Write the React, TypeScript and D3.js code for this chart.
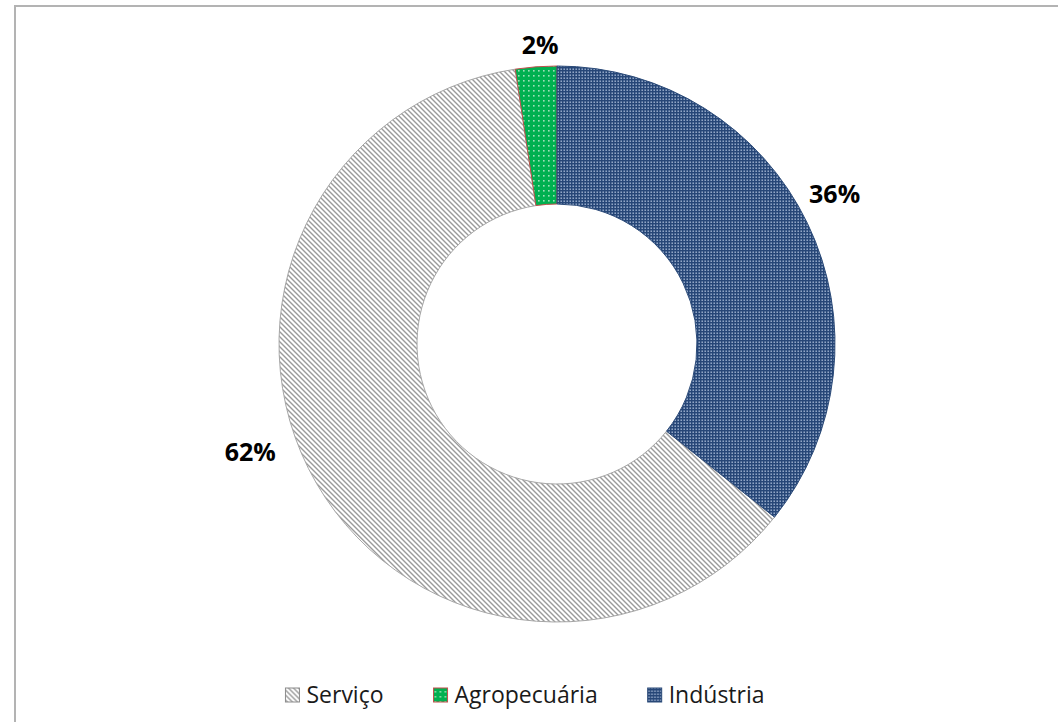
import React, { useEffect, useRef } from 'react';
import * as d3 from 'd3';

const categories = ['Serviço', 'Agropecuária', 'Indústria'];
const shares = [61.9, 2.4, 35.7];
const percentLabels = ['62%', '2%', '36%'];
const patternIds = ['hatch-servico', 'dots-agro', 'grid-industria'];
const strokes = ['#a6a6a6', '#c0504d', '#2b4a78'];

// best-fit style label placement: angle shift from the slice centre (degrees) and radius
const labelShift = [10.8, 1.1, -2.8];
const labelRadius = [325, 300, 316];

const width = 1058;
const height = 722;
const cx = 557;
const cy = 344;
const outerR = 278;
const innerR = 140;
const fontFamily = "'Open Sans', 'Liberation Sans', sans-serif";

export default function App() {
	const svgRef = useRef<SVGSVGElement>(null);

	useEffect(() => {
		const svg = d3.select(svgRef.current);
		svg.selectAll('*').remove();

		// fill patterns, similar to Excel's pattern fills
		const defs = svg.append('defs');
		const hatch = defs.append('pattern')
			.attr('id', patternIds[0])
			.attr('patternUnits', 'userSpaceOnUse')
			.attr('width', 5).attr('height', 5);
		hatch.append('rect').attr('width', 5).attr('height', 5).attr('fill', '#fff');
		hatch.append('path')
			.attr('d', 'M-1,-1 L6,6 M4,-1 L6,1 M-1,4 L1,6')
			.attr('stroke', '#9a9a9a').attr('stroke-width', 1.4);

		const dots = defs.append('pattern')
			.attr('id', patternIds[1])
			.attr('patternUnits', 'userSpaceOnUse')
			.attr('width', 5).attr('height', 5);
		dots.append('rect').attr('width', 5).attr('height', 5).attr('fill', '#00b050');
		dots.append('rect').attr('x', 1).attr('y', 1).attr('width', 1.6).attr('height', 1.6).attr('fill', '#9fe0b8');

		const grid = defs.append('pattern')
			.attr('id', patternIds[2])
			.attr('patternUnits', 'userSpaceOnUse')
			.attr('width', 3).attr('height', 3);
		grid.append('rect').attr('width', 3).attr('height', 3).attr('fill', '#264677');
		grid.append('rect').attr('x', 0.5).attr('y', 0.5).attr('width', 1.4).attr('height', 1.4).attr('fill', '#a9bcd8');

		// chart frame
		svg.append('rect')
			.attr('x', 15).attr('y', 6)
			.attr('width', width + 20).attr('height', height + 20)
			.attr('fill', '#fff')
			.attr('stroke', '#b3b3b3').attr('stroke-width', 2);

		const total = d3.sum(shares);
		const start = (shares[2] / total) * 2 * Math.PI;
		const pie = d3.pie<number>()
			.sort(null)
			.value(d => d)
			.startAngle(start)
			.endAngle(start + 2 * Math.PI);
		const arcs = pie(shares);

		const arc = d3.arc<d3.PieArcDatum<number>>()
			.innerRadius(innerR)
			.outerRadius(outerR);

		const g = svg.append('g').attr('transform', `translate(${cx}, ${cy})`);

		g.selectAll('path.slice')
			.data(arcs)
			.join('path')
			.attr('class', 'slice')
			.attr('d', arc)
			.attr('fill', (d, i) => `url(#${patternIds[i]})`)
			.attr('stroke', (d, i) => strokes[i])
			.attr('stroke-width', 1);

		g.selectAll('text.label')
			.data(arcs)
			.join('text')
			.attr('class', 'label')
			.attr('transform', (d, i) => {
				const mid = (d.startAngle + d.endAngle) / 2 + (labelShift[i] * Math.PI) / 180;
				return `translate(${d3.pointRadial(mid, labelRadius[i])})`;
			})
			.attr('text-anchor', 'middle')
			.attr('dominant-baseline', 'central')
			.attr('font-family', fontFamily)
			.attr('font-weight', 700)
			.attr('font-size', 25)
			.attr('fill', '#000')
			.text((d, i) => percentLabels[i]);

		// legend, laid out by measured text widths and centred
		const legend = svg.append('g');
		const items = legend.selectAll('g.item')
			.data(categories)
			.join('g')
			.attr('class', 'item');
		items.append('rect')
			.attr('y', 688).attr('width', 14).attr('height', 14)
			.attr('fill', (d, i) => `url(#${patternIds[i]})`)
			.attr('stroke', (d, i) => i === 0 ? '#8c8c8c' : strokes[i])
			.attr('stroke-width', 1);
		items.append('text')
			.attr('x', 21).attr('y', 703)
			.attr('font-family', fontFamily)
			.attr('font-size', 23)
			.attr('fill', '#1a1a1a')
			.text(d => d);

		const gap = 50;
		let x = 0;
		items.each(function () {
			const item = d3.select(this);
			const w = 21 + (item.select('text').node() as SVGTextElement).getComputedTextLength();
			item.attr('transform', `translate(${x}, 0)`);
			x += w + gap;
		});
		const legendWidth = x - gap;
		legend.attr('transform', `translate(${525 - legendWidth / 2}, 0)`);
	}, []);

	return (
		<svg
			ref={svgRef}
			width={width}
			height={height}
			style={{ position: 'absolute', left: 0, top: 0, background: '#fff' }}
		/>
	);
}
